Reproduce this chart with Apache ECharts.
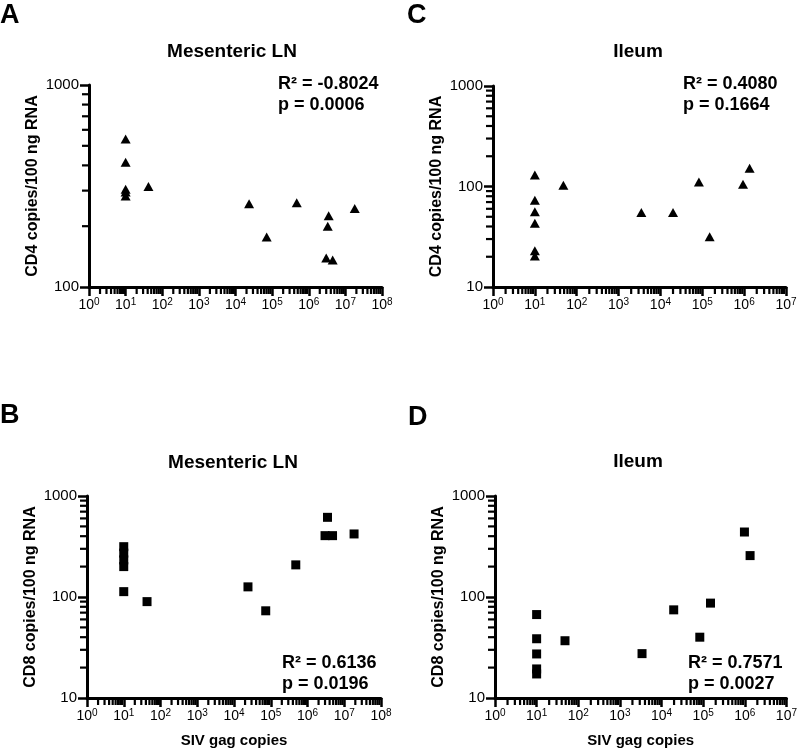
<!DOCTYPE html>
<html>
<head>
<meta charset="utf-8">
<script src="https://cdn.jsdelivr.net/npm/echarts@6/dist/echarts.min.js"></script>
<style>html,body{margin:0;padding:0;background:#fff}#c{width:800px;height:751px}</style>
</head>
<body>
<div id="c"></div>
<script>
// Panel A: Mesenteric LN, CD4 vs SIV gag
const aX = [10, 10, 10, 10, 10, 42, 23500, 71000, 470000, 3.5e6, 3.3e6, 3.0e6, 4.5e6, 1.8e7];
const aY = [541, 414, 305, 295, 282, 314, 258, 177, 261, 225, 200, 139, 136, 245];
// Panel C: Ileum, CD4 vs SIV gag
const cX = [10, 10, 10, 10, 10, 10, 48, 3500, 20000, 83000, 150000, 940000, 1.35e6];
const cY = [130, 73, 56, 43, 23, 20.4, 103, 55, 55, 111, 31.6, 105, 152];
// Panel B: Mesenteric LN, CD8 vs SIV gag
const bX = [10, 10, 10, 10, 10, 43, 24000, 73000, 480000, 3.5e6, 3.0e6, 4.8e6, 1.85e7];
const bY = [315, 272, 233, 200, 113, 90, 126, 73, 208, 615, 405, 405, 421];
// Panel D: Ileum, CD8 vs SIV gag
const dX = [10, 10, 10, 10, 10, 48, 3400, 19600, 83000, 150000, 980000, 1.34e6];
const dY = [67, 38.6, 27.3, 19.4, 17.3, 36.9, 27.5, 74.6, 40, 87, 440, 257];

const titles = ['Mesenteric LN', 'Ileum', 'Mesenteric LN', 'Ileum'];
const letters = ['A', 'C', 'B', 'D'];
const stats = [['R\u00b2 = -0.8024', 'p = 0.0006'], ['R\u00b2 = 0.4080', 'p = 0.1664'],
               ['R\u00b2 = 0.6136', 'p = 0.0196'], ['R\u00b2 = 0.7571', 'p = 0.0027']];
const yNames = ['CD4 copies/100 ng RNA', 'CD4 copies/100 ng RNA', 'CD8 copies/100 ng RNA', 'CD8 copies/100 ng RNA'];
const xName = 'SIV gag copies';
const xMax = [1e8, 1e7, 1e8, 1e7];
const yMin = [100, 10, 10, 10];
const yMax = 1000;

const FONT = '"Liberation Sans", Arial, Helvetica, sans-serif';
const grids = [
  {left: 89, top: 85, width: 293, height: 202},
  {left: 493, top: 86, width: 293, height: 201},
  {left: 87, top: 496, width: 294, height: 202},
  {left: 495, top: 496, width: 294, height: 202}
];
const xs = [aX, cX, bX, dX];
const ys = [aY, cY, bY, dY];
const symbols = ['triangle', 'triangle', 'rect', 'rect'];
const symSizes = [[10, 9], [10, 9], 9, 9];

function minorVals(lo, hi) {
  const out = [];
  for (let e = Math.round(Math.log10(lo)); Math.pow(10, e) < hi; e++) {
    for (let k = 2; k <= 9; k++) out.push(k * Math.pow(10, e));
  }
  return out;
}

const xAxes = [], yAxes = [], series = [];
grids.forEach((g, i) => {
  xAxes.push({
    type: 'log', logBase: 10, gridIndex: i, min: 1, max: xMax[i], interval: 1,
    name: i >= 2 ? xName : '', nameLocation: 'middle', nameGap: 35,
    nameTextStyle: {fontFamily: FONT, fontWeight: 'bold', fontSize: 15, color: '#000'},
    axisLine: {lineStyle: {color: '#000', width: 3}},
    axisTick: {show: true, length: 9, lineStyle: {color: '#000', width: 2.5}},
    splitLine: {show: false},
    axisLabel: {
      margin: 10, color: '#000', fontFamily: FONT,
      formatter: v => '{b|10}{s|' + Math.round(Math.log10(v)) + '}',
      rich: {
        b: {fontSize: 14, lineHeight: 17, fontFamily: FONT, color: '#000'},
        s: {fontSize: 10, lineHeight: 10, verticalAlign: 'top', fontFamily: FONT, color: '#000'}
      }
    }
  });
  yAxes.push({
    type: 'log', logBase: 10, gridIndex: i, min: yMin[i], max: yMax, interval: 1,
    name: yNames[i], nameLocation: 'middle', nameRotate: 90, nameGap: 48,
    nameTextStyle: {fontFamily: FONT, fontWeight: 'bold', fontSize: 16, color: '#000'},
    axisLine: {lineStyle: {color: '#000', width: 3}},
    axisTick: {show: true, length: 9, lineStyle: {color: '#000', width: 2.5}},
    splitLine: {show: false},
    axisLabel: {margin: 10, color: '#000', fontFamily: FONT, fontSize: 15,
                formatter: v => String(Math.round(v))}
  });
  series.push({
    type: 'scatter', xAxisIndex: i, yAxisIndex: i, z: 5,
    symbol: symbols[i], symbolSize: symSizes[i],
    itemStyle: {color: '#000', opacity: 1},
    data: xs[i].map((x, j) => [x, ys[i][j]]),
    silent: true
  });
  // minor ticks on x axis (small bars placed through the axis scale)
  series.push({
    type: 'scatter', xAxisIndex: i, yAxisIndex: i, silent: true, clip: false, z: 10,
    symbol: 'rect', symbolSize: [2.2, 6], symbolOffset: [0, 4],
    itemStyle: {color: '#000', opacity: 1},
    data: minorVals(1, xMax[i]).map(v => [v, yMin[i]])
  });
  // minor ticks on y axis
  series.push({
    type: 'scatter', xAxisIndex: i, yAxisIndex: i, silent: true, clip: false, z: 10,
    symbol: 'rect', symbolSize: [6, 2.2], symbolOffset: [-4, 0],
    itemStyle: {color: '#000', opacity: 1},
    data: minorVals(yMin[i], yMax).map(v => [1, v])
  });
});

const graphics = [];
const letterPos = [[0, 2], [407, 2], [0, 402], [408, 404]];
const titlePos = [[232, 52], [638, 52], [233, 463], [638, 462]];
const statPos = [[278, 84], [683, 84], [282, 663], [688, 663]];
for (let i = 0; i < 4; i++) {
  graphics.push({type: 'text', left: letterPos[i][0], top: letterPos[i][1],
    style: {text: letters[i], font: 'bold 27px ' + FONT, fill: '#000'}});
  graphics.push({type: 'text', x: titlePos[i][0], y: titlePos[i][1],
    style: {text: titles[i], font: 'bold 19px ' + FONT, fill: '#000', align: 'center', verticalAlign: 'middle'}});
  graphics.push({type: 'text', x: statPos[i][0], y: statPos[i][1],
    style: {text: stats[i][0], font: 'bold 18px ' + FONT, fill: '#000', align: 'left', verticalAlign: 'middle'}});
  graphics.push({type: 'text', x: statPos[i][0], y: statPos[i][1] + 21,
    style: {text: stats[i][1], font: 'bold 18px ' + FONT, fill: '#000', align: 'left', verticalAlign: 'middle'}});
}

const chart = echarts.init(document.getElementById('c'), null, {renderer: 'canvas'});
chart.setOption({
  backgroundColor: '#fff',
  animation: false,
  grid: grids,
  xAxis: xAxes,
  yAxis: yAxes,
  series: series,
  graphic: graphics
});
</script>
</body>
</html>
